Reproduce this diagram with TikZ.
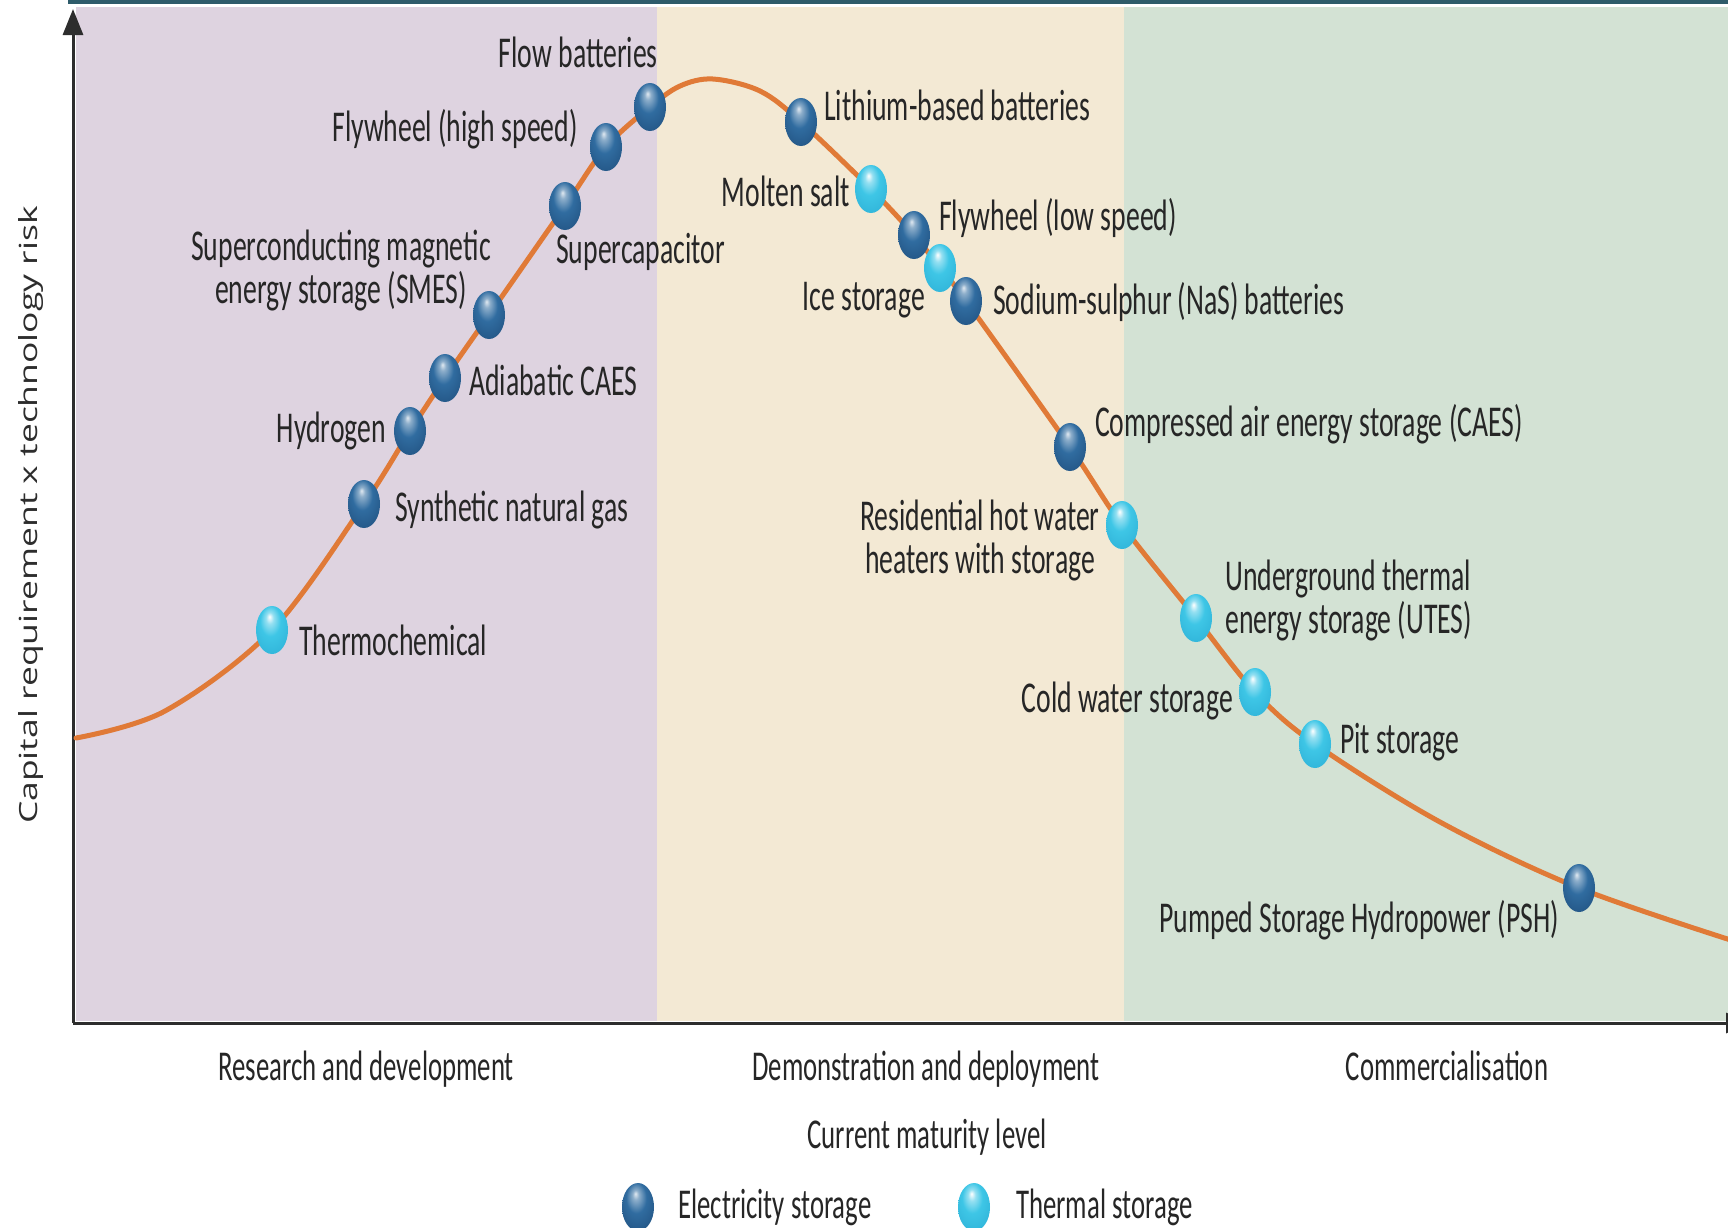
\documentclass[tikz,border=0pt]{standalone}
\usepackage{fontspec}
\usetikzlibrary{shapes.geometric,arrows.meta}
\newfontfamily\lblfont[FakeStretch=0.63]{Carlito}
\newfontfamily\axisfont[FakeStretch=1.42]{Open Sans}
\definecolor{rdbg}{RGB}{222,211,224}
\definecolor{demobg}{RGB}{243,233,212}
\definecolor{combg}{RGB}{211,226,212}
\definecolor{topbar}{RGB}{46,91,106}
\definecolor{curvecol}{RGB}{224,122,55}
\definecolor{elec}{RGB}{48,108,160}
\definecolor{elecdark}{RGB}{22,62,105}
\definecolor{therm}{RGB}{62,198,230}
\definecolor{thermdark}{RGB}{25,150,195}
\definecolor{ink}{RGB}{38,38,38}
\definecolor{axisgray}{RGB}{45,45,45}
% glossy sphere shadings for the two storage kinds
\pgfdeclareradialshading{elecsphere}{\pgfpoint{-4bp}{14bp}}{%
  color(0bp)=(white!85!elec); color(5bp)=(white!45!elec);
  color(16bp)=(elec); color(30bp)=(elec!60!elecdark); color(50bp)=(elecdark)}
\pgfdeclareradialshading{thermsphere}{\pgfpoint{-4bp}{14bp}}{%
  color(0bp)=(white); color(6bp)=(white!45!therm);
  color(16bp)=(therm); color(30bp)=(therm!70!thermdark); color(50bp)=(thermdark)}
\begin{document}
\begin{tikzpicture}[x=1pt,y=-1pt,
  lbl/.style={font=\lblfont\fontsize{44}{43}\selectfont, text=ink, inner sep=0pt},
  stagelbl/.style={font=\lblfont\fontsize{42.5}{42}\selectfont, text=ink, inner sep=0pt},
  ball/.style={ellipse, minimum width=32pt, minimum height=48pt, inner sep=0pt},
  elecball/.style={ball, shading=elecsphere, shade},
  thermball/.style={ball, shading=thermsphere, shade},
  axisline/.style={line width=3pt, draw=axisgray},
  trend/.style={draw=curvecol, line width=5pt, line cap=round},
]
\useasboundingbox (0,0) rectangle (1728,1227);

% maturity bands
\fill[rdbg]   (76,7)   rectangle (657,1021);
\fill[demobg] (657,7)  rectangle (1124,1021);
\fill[combg]  (1124,7) rectangle (1728,1021);
\fill[topbar] (68,0)   rectangle (1728,4);

% axes
\coordinate (origin) at (73,1023);
\coordinate (ytip) at (73,9);
\coordinate (xtip) at (1752,1023);
\draw[axisline, -{Triangle[width=20pt,length=26pt]}] (origin) -- (ytip);
\draw[axisline, -{Triangle[width=20pt,length=26pt]}] (origin) -- (xtip);

\node[font=\axisfont\fontsize{25}{30}\selectfont, text=axisgray, rotate=90, inner sep=0pt]
  (ylab) at (31,515) {Capital requirement x technology risk};

% positions of the technologies along the curve
\coordinate (p-start)  at (76,738);
\coordinate (p-a1)     at (165,711);
\coordinate (p-thermo) at (272,630);
\coordinate (p-sng)    at (364,504);
\coordinate (p-h2)     at (410,431);
\coordinate (p-acaes)  at (445,378);
\coordinate (p-smes)   at (489,315);
\coordinate (p-supcap) at (565,206);
\coordinate (p-flyhi)  at (606,147);
\coordinate (p-flow)   at (650,107);
\coordinate (p-a2)     at (680,86);
\coordinate (p-peak)   at (713,79);
\coordinate (p-a3)     at (760,91);
\coordinate (p-li)     at (801,122);
\coordinate (p-molten) at (871,189);
\coordinate (p-flylo)  at (914,235);
\coordinate (p-ice)    at (940,268);
\coordinate (p-nas)    at (966,301);
\coordinate (p-caes)   at (1070,447);
\coordinate (p-rhw)    at (1122,525);
\coordinate (p-utes)   at (1196,618);
\coordinate (p-cold)   at (1255,692);
\coordinate (p-pit)    at (1315,744);
\coordinate (p-a4)     at (1440,822);
\coordinate (p-psh)    at (1579,888);
\coordinate (p-end)    at (1740,943);

\draw[trend] plot[smooth, tension=0.55] coordinates {
  (p-start) (p-a1) (p-thermo) (p-sng) (p-h2) (p-acaes) (p-smes) (p-supcap)
  (p-flyhi) (p-flow) (p-a2) (p-peak) (p-a3) (p-li) (p-molten) (p-flylo)
  (p-ice) (p-nas) (p-caes) (p-rhw) (p-utes) (p-cold) (p-pit) (p-a4)
  (p-psh) (p-end)};

% markers
\node[thermball] (b-thermo) at (p-thermo) {};
\node[elecball]  (b-sng)    at (p-sng) {};
\node[elecball]  (b-h2)     at (p-h2) {};
\node[elecball]  (b-acaes)  at (p-acaes) {};
\node[elecball]  (b-smes)   at (p-smes) {};
\node[elecball]  (b-supcap) at (p-supcap) {};
\node[elecball]  (b-flyhi)  at (p-flyhi) {};
\node[elecball]  (b-flow)   at (p-flow) {};
\node[elecball]  (b-li)     at (p-li) {};
\node[thermball] (b-molten) at (p-molten) {};
\node[elecball]  (b-flylo)  at (p-flylo) {};
\node[thermball] (b-ice)    at (p-ice) {};
\node[elecball]  (b-nas)    at (p-nas) {};
\node[elecball]  (b-caes)   at (p-caes) {};
\node[thermball] (b-rhw)    at (p-rhw) {};
\node[thermball] (b-utes)   at (p-utes) {};
\node[thermball] (b-cold)   at (p-cold) {};
\node[thermball] (b-pit)    at (p-pit) {};
\node[elecball]  (b-psh)    at (p-psh) {};

% technology labels
\node[lbl, anchor=base east] (t-flow)   at (658,67)  {Flow batteries};
\node[lbl, anchor=base east] (t-flyhi)  at (578,141) {Flywheel (high speed)};
\node[lbl, anchor=base west] (t-supcap) at (556,263) {Supercapacitor};
\node[lbl, align=center]     (t-smes)   at (341,270) {Superconducting magnetic\\energy storage (SMES)};
\node[lbl, anchor=base west] (t-acaes)  at (469,395) {Adiabatic CAES};
\node[lbl, anchor=base east] (t-h2)     at (386,442) {Hydrogen};
\node[lbl, anchor=base west] (t-sng)    at (395,521) {Synthetic natural gas};
\node[lbl, anchor=base west] (t-thermo) at (299,655) {Thermochemical};
\node[lbl, anchor=base west] (t-li)     at (824,120) {Lithium-based batteries};
\node[lbl, anchor=base east] (t-molten) at (850,206) {Molten salt};
\node[lbl, anchor=base west] (t-flylo)  at (939,230) {Flywheel (low speed)};
\node[lbl, anchor=base east] (t-ice)    at (925,310) {Ice storage};
\node[lbl, anchor=base west] (t-nas)    at (993,314) {Sodium-sulphur (NaS) batteries};
\node[lbl, anchor=base west] (t-caes)   at (1095,436) {Compressed air energy storage (CAES)};
\node[lbl, align=center]     (t-rhw)    at (980,540) {Residential hot water\\heaters with storage};
\node[lbl, align=left, anchor=west] (t-utes) at (1225,600) {Underground thermal\\energy storage (UTES)};
\node[lbl, anchor=base east] (t-cold)   at (1233,712) {Cold water storage};
\node[lbl, anchor=base west] (t-pit)    at (1340,753) {Pit storage};
\node[lbl, anchor=base east] (t-psh)    at (1559,932) {Pumped Storage Hydropower (PSH)};

% maturity stages and axis title
\node[stagelbl, anchor=base] (s-rd)   at (366,1080)  {Research and development};
\node[stagelbl, anchor=base] (s-dd)   at (926,1080)  {Demonstration and deployment};
\node[stagelbl, anchor=base] (s-com)  at (1447,1080) {Commercialisation};
\node[stagelbl, anchor=base] (xlab)   at (927,1148)  {Current maturity level};

% legend
\node[elecball]  (k-elec)  at (638,1207) {};
\node[stagelbl, anchor=base west] (k-elec-t)  at (678,1218) {Electricity storage};
\node[thermball] (k-therm) at (974,1207) {};
\node[stagelbl, anchor=base west] (k-therm-t) at (1016,1218) {Thermal storage};
\end{tikzpicture}
\end{document}
